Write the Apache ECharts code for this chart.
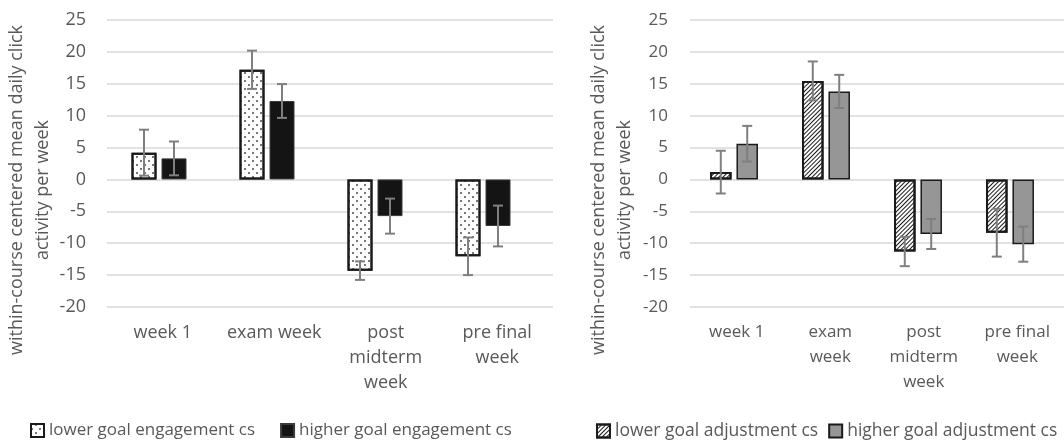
<!DOCTYPE html>
<html>
<head>
<meta charset="utf-8">
<script src="https://cdn.jsdelivr.net/npm/echarts@6/dist/echarts.min.js"></script>
<style>
  html, body { margin: 0; padding: 0; background: #ffffff; }
  #chart { width: 1064px; height: 440px; }
</style>
</head>
<body>
<div id="chart"></div>
<script>
// Weekly categories for the two panels
const categoriesEngagement = ['week 1', 'exam week', 'post\nmidterm\nweek', 'pre final\nweek'];
const categoriesAdjustment = ['week 1', 'exam\nweek', 'post\nmidterm\nweek', 'pre final\nweek'];

// Value axis range and tick step
const yMin = -20;
const yMax = 25;
const yStep = 5;

// Group means and error half-widths, goal engagement panel
const lowerEngagement = [4.2, 17.2, -14.3, -12.05];
const lowerEngagementErr = [3.6, 3.0, 1.45, 2.95];
const higherEngagement = [3.3, 12.3, -5.75, -7.3];
const higherEngagementErr = [2.65, 2.65, 2.75, 3.2];

// Group means and error half-widths, goal adjustment panel
const lowerAdjustment = [1.15, 15.45, -11.3, -8.35];
const lowerAdjustmentErr = [3.35, 3.05, 2.3, 3.75];
const higherAdjustment = [5.6, 13.8, -8.55, -10.15];
const higherAdjustmentErr = [2.8, 2.6, 2.35, 2.75];

// Series names
const seriesNames = {
  lowerEng: 'lower goal engagement cs',
  higherEng: 'higher goal engagement cs',
  lowerAdj: 'lower goal adjustment cs',
  higherAdj: 'higher goal adjustment cs'
};

const axisTitle = 'within-course centered mean daily click\nactivity per week';

const FONT = 'Open Sans';
const TEXT = '#595959';

// Staggered dot fill
const dotDecal = {
  symbol: 'rect',
  symbolSize: 0.75,
  color: '#111111',
  dashArrayX: [[2, 6], [0, 4, 2, 2]],
  dashArrayY: [2, 2],
  rotation: 0
};

// Forward-slash hatch fill
const hatchDecal = {
  symbol: 'rect',
  symbolSize: 1,
  symbolKeepAspect: false,
  color: '#1a1a1a',
  dashArrayX: [10, 0],
  dashArrayY: [1, 2],
  rotation: -Math.PI / 4
};

function labelGrid(gridIndex, categories, fontSize, tickMargin, nameGap) {
  return {
    x: {
      type: 'category', gridIndex, data: categories,
      axisLine: { show: false }, axisTick: { show: false },
      axisLabel: { interval: 0, margin: 13, color: TEXT, fontFamily: FONT, fontSize, lineHeight: 25 }
    },
    y: {
      type: 'value', gridIndex, min: yMin, max: yMax, interval: yStep,
      axisLine: { show: false }, axisTick: { show: false },
      axisLabel: { margin: tickMargin, color: TEXT, fontFamily: FONT, fontSize },
      splitLine: { lineStyle: { color: '#d9d9d9', width: 1.5 } },
      name: axisTitle, nameLocation: 'middle', nameRotate: 90, nameGap,
      nameTextStyle: { color: TEXT, fontFamily: FONT, fontSize: 18, lineHeight: 26, padding: [0, 53, 0, 0] }
    }
  };
}

function hiddenAxes(gridIndex) {
  return {
    x: { type: 'category', gridIndex, data: categoriesEngagement.map((_, i) => i), show: false },
    y: { type: 'value', gridIndex, min: yMin, max: yMax, interval: yStep, show: false }
  };
}

function errorBars(values, errs, axisIndex, side, barWidth, gapRatio) {
  return {
    type: 'custom',
    xAxisIndex: axisIndex, yAxisIndex: axisIndex,
    z: 10, silent: true,
    data: values.map((v, i) => [i, v, errs[i]]),
    renderItem(params, api) {
      const shift = side * barWidth * (1 + gapRatio) / 2;
      const hi = api.coord([api.value(0), api.value(1) + api.value(2)]);
      const lo = api.coord([api.value(0), api.value(1) - api.value(2)]);
      const x = hi[0] + shift;
      const cap = 5;
      const style = { stroke: '#7f7f7f', lineWidth: 2 };
      return {
        type: 'group',
        children: [
          { type: 'line', shape: { x1: x, y1: hi[1], x2: x, y2: lo[1] }, style },
          { type: 'line', shape: { x1: x - cap, y1: hi[1], x2: x + cap, y2: hi[1] }, style },
          { type: 'line', shape: { x1: x - cap, y1: lo[1], x2: x + cap, y2: lo[1] }, style }
        ]
      };
    }
  };
}

const engAxes = labelGrid(0, categoriesEngagement, 18, 21, 51);
const engBars = hiddenAxes(1);
const adjAxes = labelGrid(2, categoriesAdjustment, 17, 22, 52);
const adjBars = hiddenAxes(3);

const ENG_BAR_W = 25, ENG_GAP = 0.2;
const ADJ_BAR_W = 21.5, ADJ_GAP = 0.23;

const gridBase = { top: 20, height: 287, outerBoundsMode: 'none', containLabel: false };

const option = {
  animation: false,
  backgroundColor: '#ffffff',
  grid: [
    Object.assign({ left: 107, width: 446 }, gridBase),
    Object.assign({ left: 105, width: 432 }, gridBase),
    Object.assign({ left: 690, width: 374 }, gridBase),
    Object.assign({ left: 688, width: 368 }, gridBase)
  ],
  xAxis: [engAxes.x, engBars.x, adjAxes.x, adjBars.x],
  yAxis: [engAxes.y, engBars.y, adjAxes.y, adjBars.y],
  legend: [
    {
      data: [seriesNames.lowerEng, seriesNames.higherEng],
      left: 30, top: 422, padding: 0, width: 520, icon: 'rect',
      itemWidth: 13, itemHeight: 13, itemGap: 25,
      textStyle: { color: TEXT, fontFamily: FONT, fontSize: 17 }
    },
    {
      data: [seriesNames.lowerAdj, seriesNames.higherAdj],
      left: 596, top: 422, padding: 0, width: 520, icon: 'rect',
      itemWidth: 13, itemHeight: 13, itemGap: 10,
      textStyle: { color: TEXT, fontFamily: FONT, fontSize: 17.5 }
    }
  ],
  series: [
    {
      name: seriesNames.lowerEng, type: 'bar', xAxisIndex: 1, yAxisIndex: 1,
      data: lowerEngagement, barWidth: ENG_BAR_W, barGap: '20%',
      itemStyle: { color: '#ffffff', borderColor: '#1a1a1a', borderWidth: 2, decal: dotDecal }
    },
    {
      name: seriesNames.higherEng, type: 'bar', xAxisIndex: 1, yAxisIndex: 1,
      data: higherEngagement, barWidth: ENG_BAR_W, barGap: '20%',
      itemStyle: { color: '#141414', borderColor: '#3a3a3a', borderWidth: 1 }
    },
    errorBars(lowerEngagement, lowerEngagementErr, 1, -1, ENG_BAR_W, ENG_GAP),
    errorBars(higherEngagement, higherEngagementErr, 1, 1, ENG_BAR_W, ENG_GAP),
    {
      name: seriesNames.lowerAdj, type: 'bar', xAxisIndex: 3, yAxisIndex: 3,
      data: lowerAdjustment, barWidth: ADJ_BAR_W, barGap: '23%',
      itemStyle: { color: '#ffffff', borderColor: '#1a1a1a', borderWidth: 2, decal: hatchDecal }
    },
    {
      name: seriesNames.higherAdj, type: 'bar', xAxisIndex: 3, yAxisIndex: 3,
      data: higherAdjustment, barWidth: ADJ_BAR_W, barGap: '23%',
      itemStyle: { color: '#969696', borderColor: '#1a1a1a', borderWidth: 1.5 }
    },
    errorBars(lowerAdjustment, lowerAdjustmentErr, 3, -1, ADJ_BAR_W, ADJ_GAP),
    errorBars(higherAdjustment, higherAdjustmentErr, 3, 1, ADJ_BAR_W, ADJ_GAP)
  ]
};

const chart = echarts.init(document.getElementById('chart'), null, { renderer: 'canvas' });
chart.setOption(option);
</script>
</body>
</html>
